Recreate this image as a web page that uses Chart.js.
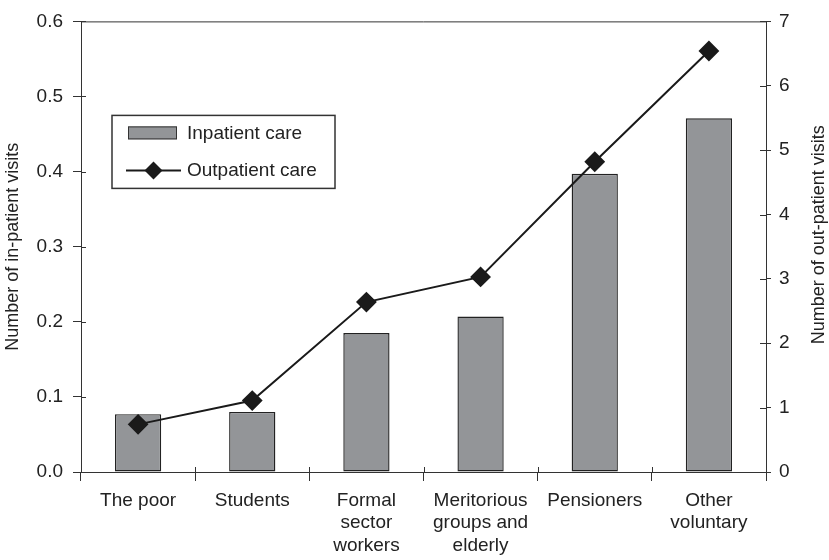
<!DOCTYPE html>
<html>
<head>
<meta charset="utf-8">
<script src="https://cdn.jsdelivr.net/npm/chart.js@4/dist/chart.umd.min.js"></script>
<style>
  html, body { margin: 0; padding: 0; background: #fff; }
  #wrap { width: 829px; height: 560px; position: relative; }
</style>
</head>
<body>
<div id="wrap"><canvas id="c" width="829" height="560"></canvas></div>
<script>
const categories = [
  "The poor",
  "Students",
  ["Formal", "sector", "workers"],
  ["Meritorious", "groups and", "elderly"],
  "Pensioners",
  ["Other", "voluntary"]
];
const inpatientVisits = [0.077, 0.080, 0.185, 0.207, 0.397, 0.471];
const outpatientVisits = [0.74, 1.11, 2.64, 3.03, 4.82, 6.54];
const leftTicks = [0, 0.1, 0.2, 0.3, 0.4, 0.5, 0.6];
const rightTicks = [0, 1, 2, 3, 4, 5, 6, 7];
const seriesNames = ["Inpatient care", "Outpatient care"];
const leftTitle = "Number of in-patient visits";
const rightTitle = "Number of out-patient visits";

const FONT = "'Liberation Sans', Arial, sans-serif";
const TXT = "#222";
const AX = "#333";
const BAR = "#939598";

const frame = {
  id: "frame",
  afterDatasetsDraw(chart) {
    const { ctx, chartArea: a, scales } = chart;
    ctx.save();
    ctx.strokeStyle = AX;
    ctx.lineWidth = 1;
    ctx.beginPath();
    ctx.moveTo(a.left, a.top + 0.5);
    ctx.lineTo(a.right, a.top + 0.5);
    leftTicks.forEach(v => {
      const y = Math.round(scales.y.getPixelForValue(v)) + 0.5;
      ctx.moveTo(a.left, y); ctx.lineTo(a.left + 5, y);
    });
    rightTicks.forEach(v => {
      const y = Math.round(scales.y1.getPixelForValue(v)) + 0.5;
      ctx.moveTo(a.right, y); ctx.lineTo(a.right - 6, y);
    });
    const xs = scales.x;
    for (let i = 1; i < categories.length; i++) {
      const x = Math.round((xs.getPixelForValue(i - 1) + xs.getPixelForValue(i)) / 2) + 0.5;
      ctx.moveTo(x, a.bottom); ctx.lineTo(x, a.bottom - 5);
    }
    ctx.stroke();
    ctx.restore();
  },
  afterDraw(chart) {
    const { ctx, chartArea: a, width } = chart;
    ctx.save();
    ctx.fillStyle = TXT;
    ctx.font = "18px " + FONT;
    ctx.textAlign = "center";
    ctx.textBaseline = "middle";
    ctx.translate(width - 10, (a.top + a.bottom) / 2 - 12);
    ctx.rotate(-Math.PI / 2);
    ctx.fillText(rightTitle, 0, 0);
    ctx.restore();

    const bx = a.left + 31, by = a.top + 94, bw = 223, bh = 73;
    ctx.save();
    ctx.fillStyle = "#fff";
    ctx.fillRect(bx, by, bw, bh);
    ctx.strokeStyle = AX;
    ctx.lineWidth = 1.5;
    ctx.strokeRect(bx, by, bw, bh);
    ctx.fillStyle = BAR;
    ctx.fillRect(bx + 16, by + 11, 49, 13);
    ctx.lineWidth = 1;
    ctx.strokeRect(bx + 16.5, by + 11.5, 48, 12);
    const ly = by + 55;
    ctx.strokeStyle = "#1a1a1a";
    ctx.lineWidth = 2;
    ctx.beginPath();
    ctx.moveTo(bx + 14, ly);
    ctx.lineTo(bx + 69, ly);
    ctx.stroke();
    ctx.fillStyle = "#1a1a1a";
    const cx = bx + 41.5, r = 9;
    ctx.beginPath();
    ctx.moveTo(cx, ly - r); ctx.lineTo(cx + r, ly); ctx.lineTo(cx, ly + r); ctx.lineTo(cx - r, ly);
    ctx.closePath(); ctx.fill();
    ctx.fillStyle = TXT;
    ctx.font = "19px " + FONT;
    ctx.textBaseline = "middle";
    ctx.textAlign = "left";
    ctx.fillText(seriesNames[0], bx + 75, by + 18);
    ctx.fillText(seriesNames[1], bx + 75, ly);
    ctx.restore();
  }
};

new Chart(document.getElementById("c"), {
  data: {
    labels: categories,
    datasets: [
      {
        type: "line",
        label: seriesNames[1],
        data: outpatientVisits,
        yAxisID: "y1",
        borderColor: "#1a1a1a",
        backgroundColor: "#1a1a1a",
        borderWidth: 2,
        pointStyle: "rectRot",
        pointRadius: 9,
        pointBackgroundColor: "#1a1a1a",
        pointBorderColor: "#1a1a1a",
        tension: 0,
        order: 1
      },
      {
        type: "bar",
        label: seriesNames[0],
        data: inpatientVisits,
        yAxisID: "y",
        backgroundColor: BAR,
        borderColor: "#222",
        borderWidth: 1.4,
        borderSkipped: false,
        barPercentage: 0.405,
        categoryPercentage: 1,
        order: 2
      }
    ]
  },
  options: {
    responsive: false,
    animation: false,
    layout: { padding: { top: 18, left: 0, right: 0, bottom: 0 } },
    plugins: { legend: { display: false }, tooltip: { enabled: false } },
    scales: {
      x: {
        type: "category",
        offset: true,
        grid: { offset: true, drawOnChartArea: false, drawTicks: true, tickLength: 9, color: AX },
        border: { display: true, color: AX, width: 1 },
        ticks: { color: TXT, font: { family: FONT, size: 19, lineHeight: 1.2 }, padding: 8, maxRotation: 0, autoSkip: false },
        afterFit(s) { s.height = 88; }
      },
      y: {
        position: "left",
        min: 0, max: 0.6,
        afterBuildTicks(s) { s.ticks = leftTicks.map(v => ({ value: v })); },
        grid: { drawOnChartArea: false, drawTicks: true, tickLength: 8, color: AX },
        border: { display: true, color: AX, width: 1 },
        ticks: { color: TXT, font: { family: FONT, size: 19 }, padding: 10, callback: v => Number(v).toFixed(1) },
        title: { display: true, text: leftTitle, color: TXT, font: { family: FONT, size: 18 }, padding: { top: 2, bottom: 0 } },
        afterFit(s) { s.width = 81; }
      },
      y1: {
        position: "right",
        min: 0, max: 7,
        afterBuildTicks(s) { s.ticks = rightTicks.map(v => ({ value: v })); },
        grid: { drawOnChartArea: false, drawTicks: true, tickLength: 5, color: AX },
        border: { display: true, color: AX, width: 1 },
        ticks: { color: TXT, font: { family: FONT, size: 19 }, padding: 8, callback: v => String(v) },
        title: { display: false },
        afterFit(s) { s.width = 63; }
      }
    }
  },
  plugins: [frame]
});
</script>
</body>
</html>
